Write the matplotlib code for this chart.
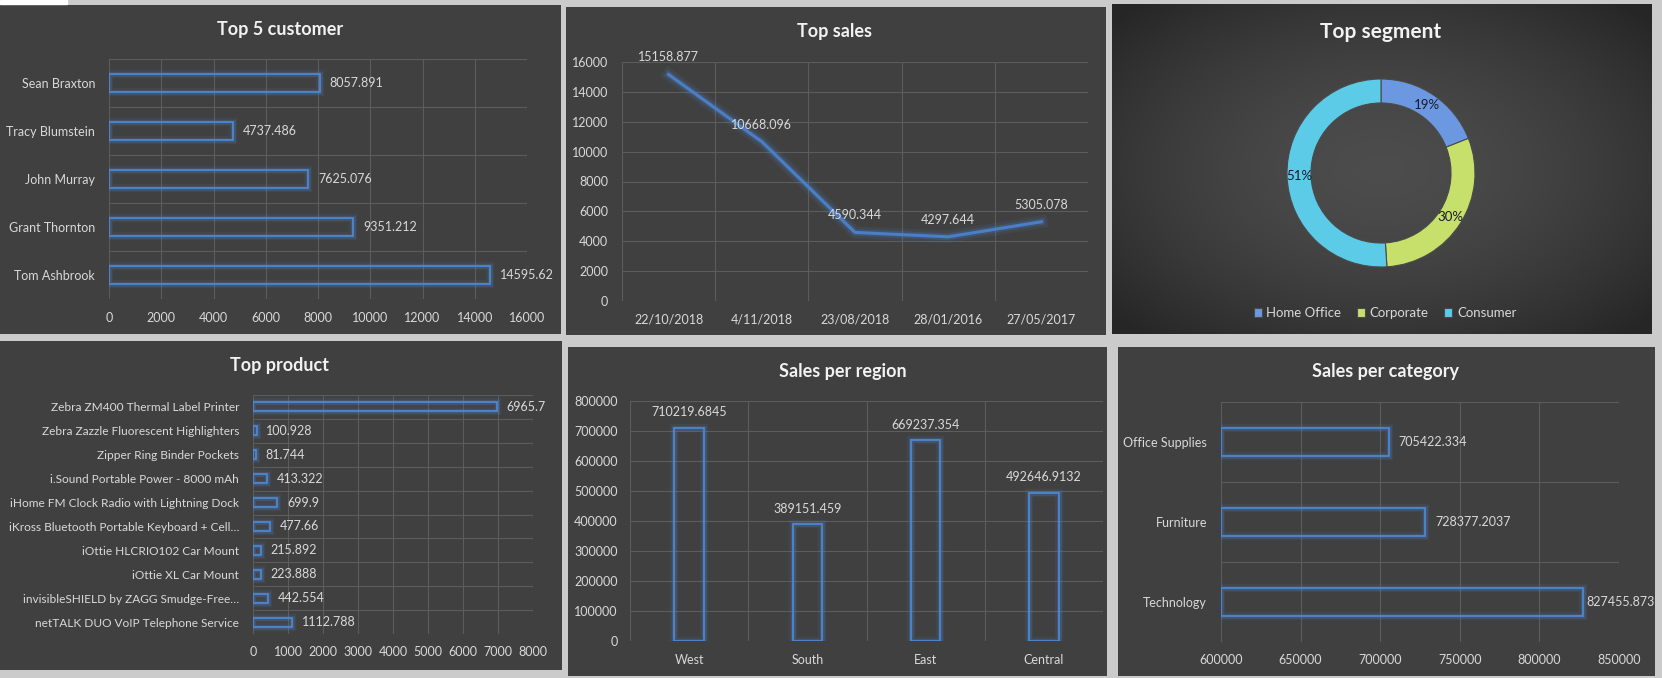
import numpy as np
import matplotlib.pyplot as plt
import matplotlib.patheffects as pe

plt.rcParams['font.family'] = ['Lato', 'DejaVu Sans']

W, H = 1662, 678

customers = ['Sean Braxton', 'Tracy Blumstein', 'John Murray', 'Grant Thornton', 'Tom Ashbrook']
customer_sales = [8057.891, 4737.486, 7625.076, 9351.212, 14595.62]

dates = ['22/10/2018', '4/11/2018', '23/08/2018', '28/01/2016', '27/05/2017']
date_sales = [15158.877, 10668.096, 4590.344, 4297.644, 5305.078]

segments = ['Home Office', 'Corporate', 'Consumer']
segment_share = [19, 30, 51]

products = ['Zebra ZM400 Thermal Label Printer', 'Zebra Zazzle Fluorescent Highlighters',
            'Zipper Ring Binder Pockets', 'i.Sound Portable Power - 8000 mAh',
            'iHome FM Clock Radio with Lightning Dock', 'iKross Bluetooth Portable Keyboard + Cell…',
            'iOttie HLCRIO102 Car Mount', 'iOttie XL Car Mount',
            'invisibleSHIELD by ZAGG Smudge-Free…', 'netTALK DUO VoIP Telephone Service']
product_sales = [6965.7, 100.928, 81.744, 413.322, 699.9, 477.66, 215.892, 223.888, 442.554, 1112.788]

regions = ['West', 'South', 'East', 'Central']
region_sales = [710219.6845, 389151.459, 669237.354, 492646.9132]

categories = ['Office Supplies', 'Furniture', 'Technology']
category_sales = [705422.334, 728377.2037, 827455.873]

BG = '#cbcbcb'
PANEL = '#404040'
GRID = '#5c5c5c'
TXT = '#d9d9d9'
BLUE = '#4f8ad8'
glow = [pe.Stroke(linewidth=6, foreground=BLUE, alpha=0.10),
        pe.Stroke(linewidth=3.5, foreground=BLUE, alpha=0.22),
        pe.Normal()]


def box(l, t, r, b):
    return [l / W, 1 - b / H, (r - l) / W, (b - t) / H]


def panel(l, t, r, b):
    ax = fig.add_axes(box(l, t, r, b), zorder=0)
    ax.set_facecolor(PANEL)
    ax.set_xticks([])
    ax.set_yticks([])
    for s in ax.spines.values():
        s.set_visible(False)
    return ax


def title(x, y, text, size=13):
    fig.text(x / W, 1 - y / H, text, ha='center', va='center', fontsize=size,
             fontweight='bold', color='#f2f2f2')


def style(ax, xpad=9, ypad=9):
    ax.set_facecolor('none')
    for s in ax.spines.values():
        s.set_visible(False)
    ax.set_axisbelow(True)
    ax.tick_params(which='both', length=0, colors=TXT, labelsize=9)
    ax.tick_params(axis='x', pad=xpad)
    ax.tick_params(axis='y', pad=ypad)


def hbar(ax, labels, values, height, left=0, pad=7):
    y = np.arange(len(labels))
    widths = [v - left for v in values]
    bars = ax.barh(y, widths, left=left, height=height, facecolor='none',
                   edgecolor=BLUE, linewidth=1.2, path_effects=glow)
    texts = ax.bar_label(bars, labels=[str(v) for v in values], padding=pad, color=TXT, fontsize=9)
    ax.set_yticks(y)
    ax.set_yticklabels(labels)
    ax.set_yticks(np.arange(-0.5, len(labels)), minor=True)
    ax.set_ylim(len(labels) - 0.5, -0.5)
    ax.grid(which='major', axis='x', color=GRID, lw=0.8)
    ax.grid(which='minor', axis='y', color=GRID, lw=0.8)
    return texts


fig = plt.figure(figsize=(W / 100, H / 100), dpi=100, facecolor=BG)
fig.patches.append(plt.Rectangle((0, 1 - 4 / H), 67 / W, 4 / H, transform=fig.transFigure,
                                 color='white'))

# Top 5 customer
panel(0, 5, 561, 334)
title(280, 30, 'Top 5 customer')
ax1 = fig.add_axes(box(109, 59, 527, 299), zorder=1)
style(ax1, 9, 10)
hbar(ax1, customers, customer_sales, 0.36)
ax1.set_xlim(0, 16000)
ax1.set_xticks(range(0, 16001, 2000))

# Top sales
panel(566, 7, 1106, 335)
title(835, 31, 'Top sales')
ax2 = fig.add_axes(box(622, 62, 1088, 301), zorder=1)
style(ax2, 9, 10)
x = np.arange(len(dates))
ax2.plot(x, date_sales, color='#4a7fc8', lw=2.2,
         path_effects=[pe.Stroke(linewidth=9, foreground=BLUE, alpha=0.10),
                       pe.Stroke(linewidth=5, foreground=BLUE, alpha=0.20), pe.Normal()])
for xi, v in zip(x, date_sales):
    ax2.annotate(str(v), (xi, v), xytext=(0, 8), textcoords='offset points',
                 ha='center', va='bottom', color=TXT, fontsize=9)
ax2.set_xticks(x)
ax2.set_xticklabels(dates)
ax2.set_xticks(np.arange(-0.5, len(dates)), minor=True)
ax2.set_xlim(-0.5, len(dates) - 0.5)
ax2.set_ylim(0, 16000)
ax2.set_yticks(range(0, 16001, 2000))
ax2.grid(which='major', axis='y', color=GRID, lw=0.8)
ax2.grid(which='minor', axis='x', color=GRID, lw=0.8)

# Top segment
bg3 = panel(1112, 4, 1652, 334)
gy, gx = np.mgrid[-1:1:200j, -1:1:300j]
r = np.clip(np.sqrt(gx ** 2 + gy ** 2) / 1.35, 0, 1)
shade = 0.30 - 0.15 * r ** 1.6
bg3.imshow(np.dstack([shade, shade, shade]), extent=(0, 1, 0, 1), aspect='auto')
title(1381, 32, 'Top segment', size=15)
ax3 = fig.add_axes(box(1381 - 94, 173 - 94, 1381 + 94, 173 + 94), zorder=1)
wedges, _, autotexts = ax3.pie(segment_share, colors=['#6b98e0', '#c6e06b', '#5ccbe8'],
                               startangle=90, counterclock=False, radius=1,
                               autopct=lambda p: f'{p:.0f}%', pctdistance=0.87,
                               wedgeprops=dict(width=0.255, edgecolor='#4a4a4a', linewidth=0.8))
for t in autotexts:
    t.set_color('#1a1a2a')
    t.set_fontsize(9.5)
ax3.set_xlim(-1, 1)
ax3.set_ylim(-1, 1)
fig.legend(wedges, segments, loc='center', bbox_to_anchor=(1385 / W, 1 - 313 / H), ncol=3,
           frameon=False, handlelength=0.6, handleheight=0.6, columnspacing=1.2,
           handletextpad=0.35, labelcolor=TXT, fontsize=9.5)

# Top product
panel(0, 341, 562, 670)
title(280, 365, 'Top product')
ax4 = fig.add_axes(box(253, 395, 533, 634), zorder=1)
style(ax4, 9, 10)
hbar(ax4, products, product_sales, 0.38)
ax4.tick_params(axis='y', labelsize=8.6)
ax4.set_xlim(0, 8000)
ax4.set_xticks(range(0, 8001, 1000))

# Sales per region
panel(568, 347, 1107, 676)
title(843, 371, 'Sales per region')
ax5 = fig.add_axes(box(630, 401, 1103, 641), zorder=1)
style(ax5, 9, 9)
xr = np.arange(len(regions))
bars5 = ax5.bar(xr, region_sales, width=0.25, facecolor='none', edgecolor=BLUE,
                linewidth=1.2, path_effects=glow)
ax5.bar_label(bars5, labels=[str(v) for v in region_sales], padding=7, color=TXT, fontsize=9)
ax5.set_xticks(xr)
ax5.set_xticklabels(regions)
ax5.set_xticks(np.arange(-0.5, len(regions)), minor=True)
ax5.set_xlim(-0.5, len(regions) - 0.5)
ax5.set_ylim(0, 800000)
ax5.set_yticks(range(0, 800001, 100000))
ax5.grid(which='major', axis='y', color=GRID, lw=0.8)
ax5.grid(which='minor', axis='x', color=GRID, lw=0.8)

# Sales per category
panel(1118, 347, 1655, 676)
title(1386, 372, 'Sales per category')
ax6 = fig.add_axes(box(1221, 402, 1619, 642), zorder=1)
style(ax6, 9, 10)
cat_texts = hbar(ax6, categories, category_sales, 0.35, left=600000, pad=7)
# Excel pulls the last label in so it stays inside the chart
cat_texts[-1].xyann = (2, 0)
ax6.set_xlim(600000, 850000)
ax6.set_xticks(range(600000, 850001, 50000))

fig.savefig('out.png', dpi=100, facecolor=BG)
